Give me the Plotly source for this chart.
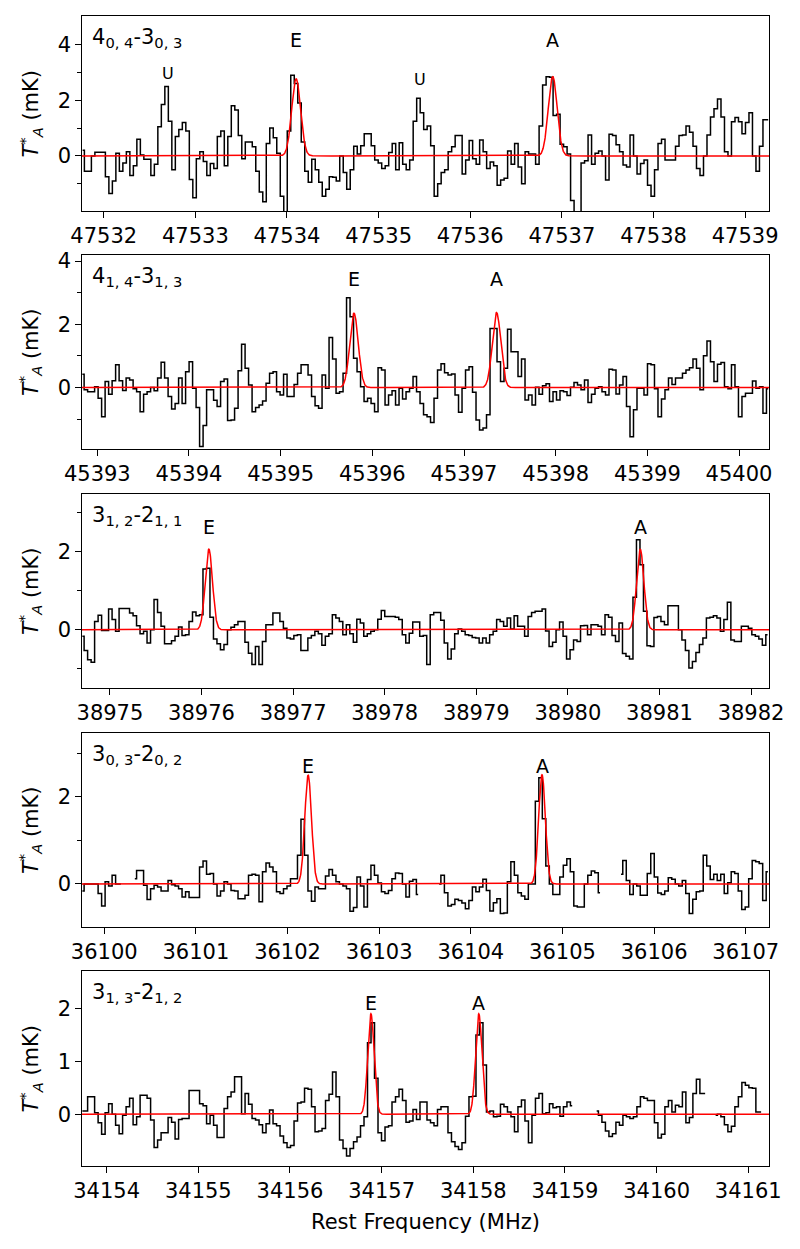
import numpy as np
import plotly.graph_objects as go
from plotly.subplots import make_subplots

# ---------------- data ----------------
CHAN_MHZ = 0.03817          # spectral channel width (MHz)
C_KMS = 299792.458
FIT_FWHM_KMS = 0.72         # line width of the fitted Gaussians (km/s)

transitions = ["4<sub>0, 4</sub>-3<sub>0, 3</sub>",
               "4<sub>1, 4</sub>-3<sub>1, 3</sub>",
               "3<sub>1, 2</sub>-2<sub>1, 1</sub>",
               "3<sub>0, 3</sub>-2<sub>0, 2</sub>",
               "3<sub>1, 3</sub>-2<sub>1, 2</sub>"]

first_chan_mhz = [47531.770, 45392.837, 38974.699, 36099.761, 34153.735]

tmb_404 = [0.2, -0.55, -0.55, 0, 0.13, 0.13, 0.13, -0.75, -1.35, -0.9,
           0.1, -0.55, -0.25, 0.15, -0.7, -0.35, 0.6, 0.03, -0.12, -0.12,
           -0.7, -0.3, 1.05, 1.85, 2.5, 1.25, -0.5, 0.7, 0.95, 1.2,
           0.9, -0.85, -1.5, -0.1, 0.15, -0.2, -0.7, -0.27, -0.45, 0.7,
           0.9, -0.35, 0.7, 1.8, 1.65, 0.73, -0.1, 0.5, 0.5, 0.33,
           -0.55, -1.3, -1.65, 0.45, 1.0, 0.65, 0.1, -1.45, -2.4, 0.9,
           2.9, 2.6, 1.9, 0.5, -0.55, -0.95, -0.12, -0.5, -0.95, -1.45,
           -1.2, -0.75, -0.77, -0.9, 0, -0.6, -1.2, -0.5, 0.35, 0.07,
           0.37, 0.8, 0.8, 0.37, -0.15, -0.25, -0.45, -0.35, 0.12, 0.45,
           -0.5, 0.47, -0.3, -0.5, -0.15, 1.25, 2.07, 1.55, 0.95, 1.08,
           0.37, -1.45, -1.0, -0.6, -0.5, 0.15, 0.33, 0.73, 0.73, -0.65,
           -0.15, 0.55, -0.1, -0.3, 0.57, 0.15, -0.45, -0.22, -0.35, -1.05,
           -0.87, -0.8, 0.18, -0.3, 0.45, -0.4, -1.0, 0.15, 0.07, 0.07,
           -0.3, 1.08, 2.55, 2.85, 2.83, 1.45, 1.5, 0.42, 0.33, 0.07,
           -1.6, -2.3, -2.2, -0.25, -0.17, 0.75, -0.3, 0.1, 0.18, 0,
           -0.87, 0.78, 0.73, 0.4, 0.15, -0.33, -0.4, 0.75, 0, -0.65,
           -0.27, -0.15, -1.05, -1.45, -0.5, 0.45, 0.6, -0.15, -0.15, -0.15,
           0.35, 0.73, 0.75, 1.08, 0.85, 0.35, -0.45, -0.7, 0, 0.75,
           1.4, 1.7, 2.05, 1.4, 0.15, 0, 1.23, 1.38, 1.23, 0.8,
           1.2, 1.55, 0.0, -0.55, 0.35, 1.3, 1.3]

tmb_414 = [0.42, -0.07, -0.13, -0.13, 0.03, -0.34, -0.92, 0.19, -0.21, 0.22,
           0.72, 0.22, -0.09, 0.3, 0.24, -0.04, -0.13, -0.76, -0.21, -0.13,
           0, -0.1, 0.3, 0.8, 0.3, -0.28, -0.68, -0.5, 0.3, -0.5,
           0.5, 0.82, -0.02, -0.63, -1.86, -1.2, -0.07, -0.07, -0.4, -0.6,
           0.19, 0.27, -1.04, -1.02, -0.65, 0.53, 1.37, 0.61, 0.08, -0.76,
           -0.63, -0.55, -0.42, 0.14, 0.45, 0.5, -0.13, -0.23, 0.42, -0.28,
           -0.28, 0.1, 0.45, 0.72, 0.72, 0.4, -0.28, -0.57, -0.65, 0.4,
           -0.02, 1.58, 0.9, -0.18, -0.13, 0.45, 2.84, 2.24, 0.93, 0.5,
           0.03, -0.44, -0.34, -0.5, -0.76, 0.63, 0.56, -0.55, -0.23, -0.1,
           -0.55, -0.02, -0.36, -0.13, -0.02, 0.35, -0.13, -0.5, -0.86, -0.92,
           -1.1, -0.34, 0.56, 0.75, 0.47, 0.4, 0.43, -0.23, -0.78, -0.02,
           0.56, 0.66, -0.15, -1.02, -1.34, -1.28, -0.86, 1.87, 1.87, 0.82,
           0.19, 0.61, 1.84, 1.13, 1.13, 0.35, 0.9, -0.39, -0.23, -0.55,
           0.01, -0.21, 0.06, 0.12, -0.44, -0.13, -0.39, -0.1, -0.13, -0.25,
           0.01, 0.16, 0.08, -0.07, 0.24, -0.47, -0.21, -0.02, 0.03, -0.13,
           -0.23, 0.58, 0.56, -0.2, 0.08, 0.35, -0.6, -1.55, -0.7, -0.02,
           -0.02, -0.23, 0.75, 0.72, -0.04, -0.92, -0.36, -0.07, 0.3, 0.1,
           0.3, 0.3, 0.45, 0.56, 0.63, 0.9, 0.61, -0.07, 1.01, 1.47,
           0.82, 0.19, 0.74, 0.79, 0.03, -0.04, 0.72, 0.03, -0.92, -0.28,
           -0.18, -0.18, 0.21, -0.02, 0.03, -0.81, -0.04]

tmb_312 = [-0.17, -0.53, -0.77, -0.83, 0.21, 0.37, -0.02, -0.02, 0.53, 0.26,
           -0.04, 0.54, 0.54, 0.54, 0.43, 0.36, 0.1, -0.1, -0.04, -0.34,
           0, 0.77, 0.44, 0.09, -0.36, -0.36, -0.28, -0.17, 0.07, -0.15,
           -0.13, 0.21, 0.45, 0.36, 0.38, 1.55, 1.57, 0.32, -0.24, -0.36,
           -0.51, -0.38, 0, 0.06, 0.13, 0.21, 0.21, -0.32, -0.6, -0.89,
           -0.43, -0.89, -0.3, 0.13, 0.13, 0.43, 0.43, 0.21, 0.04, -0.21,
           -0.24, -0.15, -0.13, -0.53, -0.53, -0.21, -0.15, -0.04, -0.1, -0.4,
           -0.17, -0.1, 0.38, 0.3, 0.21, -0.13, 0.13, -0.1, -0.32, 0.27,
           0.17, -0.17, -0.1, -0.04, 0, 0.27, 0.49, 0.34, 0.34, 0.34,
           0.32, 0.26, -0.13, -0.34, -0.09, 0.2, 0.2, -0.17, -0.15, -0.89,
           0.38, 0.44, 0.44, 0.24, -0.34, -0.75, -0.49, -0.1, 0.02, -0.04,
           -0.13, -0.15, -0.2, -0.21, -0.34, -0.21, -0.34, -0.13, -0.04, 0.26,
           0.21, 0.09, 0.3, 0.02, 0.36, 0.09, 0.09, -0.17, 0.34, 0.44,
           0.47, 0.47, 0.53, -0.03, -0.43, -0.32, 0, 0.2, -0.17, -0.75,
           -0.51, -0.26, -0.3, 0.1, 0.11, -0.13, 0.13, 0.13, 0.09, -0.13,
           0.38, 0.32, -0.15, -0.3, 0.17, -0.61, -0.68, -0.75, 0.83, 2.3,
           1.66, 0.47, -0.41, -0.43, 0.31, 0.34, 0.21, 0.13, 0.61, 0.61,
           0.61, 0, -0.26, -0.53, -0.98, -0.81, -0.58, -0.38, -0.21, 0.3,
           0.32, 0.36, 0.3, -0.04, 0.26, 0.7, -0.26, -0.3, -0.3, 0.09,
           0.09, 0.04, -0.13, -0.17, -0.24, -0.4, -0.13]

tmb_303 = [-0.16, 0, 0, 0, 0, -0.22, -0.51, 0.05, -0.05, 0.2,
           0, 0, None, None, None, 0.12, 0.31, 0.31, -0.03, -0.36,
           -0.11, -0.03, -0.07, -0.16, -0.16, 0.08, -0.02, -0.05, -0.11, -0.3,
           -0.18, -0.31, -0.31, -0.31, 0.39, 0.53, 0.22, 0.24, 0, -0.28,
           -0.16, 0.05, 0, -0.15, -0.16, -0.34, -0.34, -0.26, 0.2, 0.22,
           0.2, -0.41, 0.28, 0.48, 0.39, 0.28, -0.18, -0.22, -0.11, -0.05,
           0.12, 0.12, 0.66, 1.49, 0.66, -0.16, -0.4, -0.07, -0.11, -0.11,
           0.18, 0.33, 0.2, 0.05, 0, -0.05, -0.11, -0.63, -0.54, 0.16,
           -0.05, -0.53, 0.1, 0.43, 0.2, 0.02, -0.18, -0.22, -0.15, 0.12,
           0.25, 0.24, 0, -0.3, 0.06, 0.1, -0.24, None, None, None,
           None, None, 0, 0.2, -0.2, -0.51, -0.47, -0.35, -0.38, -0.44,
           -0.57, -0.38, -0.07, -0.18, -0.07, 0.11, -0.15, -0.62, -0.43, -0.34,
           -0.68, -0.67, 0.05, 0.51, 0.2, -0.2, -0.28, -0.35, 0, 0,
           1.9, 2.44, 1.5, 0.41, 0, -0.24, -0.24, 0.16, 0.43, 0.58,
           0.28, -0.51, -0.53, -0.53, 0, 0.2, 0.3, 0.26, -0.2, None,
           None, None, None, None, 0.22, 0.54, 0.08, -0.24, 0, -0.05,
           -0.26, -0.26, 0.24, 0.7, 0.16, -0.21, -0.24, -0.16, 0.14, 0.11,
           0, -0.05, 0.08, -0.22, -0.68, -0.35, -0.18, -0.16, 0.66, 0.41,
           0.1, 0.22, 0.08, 0.22, -0.22, 0.03, 0.28, 0.24, -0.16, -0.59,
           -0.53, 0.12, 0.54, 0.51, 0.47, -0.38, 0.28]

tmb_313 = [0.06, 0.06, 0.33, 0.33, 0.03, -0.16, -0.38, 0.03, 0.2, 0,
           -0.21, -0.37, -0.02, 0.14, 0.3, -0.2, -0.05, 0.36, 0.36, 0.3,
           -0.11, -0.63, -0.49, -0.35, -0.35, -0.06, -0.15, -0.47, -0.1, -0.08,
           -0.08, 0.45, 0.45, 0.45, 0.2, 0.16, -0.18, -0.02, -0.21, -0.44,
           -0.44, 0.11, 0.33, 0.42, 0.71, 0.71, 0.01, 0.39, 0.19, -0.08,
           -0.11, -0.2, -0.35, -0.18, 0.08, -0.18, -0.22, -0.41, -0.54, -0.63,
           -0.59, -0.13, 0.21, 0.23, 0.49, 0.47, 0.14, -0.33, -0.32, -0.27,
           0.26, 0.38, 0.8, 0.33, -0.49, -0.65, -0.79, -0.65, -0.52, -0.43,
           -0.22, -0.05, 1.35, 1.73, 0.68, -0.35, -0.5, -0.24, -0.22, 0.23,
           0.33, 0.47, 0.26, -0.15, -0.13, 0.09, -0.1, 0.23, 0.23, -0.11,
           -0.16, -0.22, 0.09, 0.14, 0.14, -0.35, -0.52, -0.61, -0.67, -0.54,
           -0.04, 0.33, 0.34, 1.5, 1.73, 0.93, 0.04, 0.06, -0.05, -0.04,
           0.19, 0.14, 0.04, -0.05, -0.33, 0.14, 0.27, -0.13, -0.54, -0.02,
           0.3, 0.39, 0.01, 0.03, 0.2, 0.12, 0.14, -0.04, 0.14, 0.23,
           0.16, None, None, None, None, None, None, 0.06, -0.02, -0.15,
           -0.32, -0.42, -0.37, -0.15, -0.21, -0.02, -0.05, -0.08, -0.05, 0.14,
           0.33, 0.3, 0.26, 0.26, -0.16, -0.45, -0.38, 0.14, 0.26, 0.04,
           0.17, 0.14, 0.42, -0.16, -0.06, 0.39, 0.66, 0.39, 0.39, None,
           None, -0.02, 0, -0.05, -0.2, -0.33, -0.23, 0.14, 0.33, 0.6,
           0.55, 0.5, 0.49, 0.04, 0.04, None, None]

spectra = [tmb_404, tmb_414, tmb_312, tmb_303, tmb_313]

x_ranges = [[47531.763, 47539.26], [45392.833, 45400.327],
            [38974.695, 38982.196], [36099.757, 36107.254],
            [34153.731, 34161.226]]
y_ranges = [[-1.98, 5.03], [-1.94, 4.19], [-1.49, 3.47], [-0.99, 3.47], [-0.98, 2.71]]
major_y = [[0, 2, 4], [0, 2, 4], [0, 2], [0, 2], [0, 1, 2]]
minor_y = [[-1, 1, 3], [-1, 1, 3], [-1, 1, 3], [1, 3], []]

line_names = ["E", "A"]
fit_centers = [[47534.10, 47536.90], [45395.80, 45397.355], [38976.08, 38980.79],
               [36102.225, 36104.777], [34156.883, 34158.06]]
fit_peaks = [[2.77, 2.85], [2.35, 2.37], [2.06, 2.06], [2.50, 2.51], [1.90, 1.90]]
name_y = [4.17, 3.43, 2.62, 2.71, 2.11]

u_freqs = [47532.70, 47535.456]
u_y = [2.98, 2.73]

# ---------------- layout geometry (pixels) ----------------
W, H = 800, 1249
X0, X1 = 82, 769
panel_px = [(16, 211), (255, 449), (494, 688), (733, 927), (971, 1166)]

FONT = "DejaVu Sans"
fig = make_subplots(rows=5, cols=1)

annotations = []
for i in range(5):
    r = i + 1
    vals = spectra[i]
    freqs = [first_chan_mhz[i] + k * CHAN_MHZ for k in range(len(vals))]
    fig.add_trace(go.Scatter(x=freqs, y=vals, mode="lines",
                             line=dict(color="black", width=1.5, shape="hvh"),
                             connectgaps=False, showlegend=False, hoverinfo="skip"),
                  row=r, col=1)
    # Gaussian fit model
    fgrid = np.linspace(x_ranges[i][0], x_ranges[i][1], 3000)
    model = np.zeros_like(fgrid)
    for c, p in zip(fit_centers[i], fit_peaks[i]):
        fwhm = FIT_FWHM_KMS / C_KMS * c
        sig = fwhm / 2.35482
        model += p * np.exp(-0.5 * ((fgrid - c) / sig) ** 2)
    fig.add_trace(go.Scatter(x=fgrid, y=model, mode="lines",
                             line=dict(color="red", width=1.5),
                             showlegend=False, hoverinfo="skip"),
                  row=r, col=1)

    top, bot = panel_px[i]
    xa = "xaxis" if i == 0 else f"xaxis{r}"
    ya = "yaxis" if i == 0 else f"yaxis{r}"
    fig.layout[xa].update(
        domain=[X0 / W, X1 / W], range=x_ranges[i], automargin=False,
        tickmode="linear", tick0=0, dtick=1, tickformat="d",
        ticks="outside", ticklen=5.5, tickwidth=1.1, tickcolor="black",
        showline=True, linecolor="black", linewidth=1.3, mirror=True,
        showgrid=False, zeroline=False,
        tickfont=dict(family=FONT, size=21, color="black"))
    fig.layout[ya].update(
        domain=[1 - bot / H, 1 - top / H], range=y_ranges[i], automargin=False,
        tickmode="array", tickvals=major_y[i],
        ticks="outside", ticklen=5.5, tickwidth=1.1, tickcolor="black",
        minor=dict(tickmode="array", tickvals=minor_y[i], ticks="outside",
                   ticklen=3.5, tickwidth=1.0, tickcolor="black", showgrid=False),
        showline=True, linecolor="black", linewidth=1.3, mirror=True,
        showgrid=False, zeroline=False,
        tickfont=dict(family=FONT, size=21, color="black"))

    xref = "x" if i == 0 else f"x{r}"
    yref = "y" if i == 0 else f"y{r}"
    # transition label
    annotations.append(dict(text=transitions[i], xref=f"{xref} domain", yref=f"{yref} domain",
                            x=0.012, y=0.885, xanchor="left", yanchor="middle",
                            showarrow=False, font=dict(family=FONT, size=21, color="black")))
    # E / A labels
    for nm, c in zip(line_names, fit_centers[i]):
        annotations.append(dict(text=nm, xref=xref, yref=yref, x=c, y=name_y[i],
                                xanchor="center", yanchor="middle", showarrow=False,
                                font=dict(family=FONT, size=19, color="black")))
    # y-axis title
    yc = 1 - (top + bot) / 2 / H
    annotations.append(dict(text="<i>T</i><sup>*</sup><sub><i>A</i></sub> (mK)",
                            xref="paper", yref="paper", x=30 / W, y=yc,
                            xanchor="center", yanchor="middle", textangle=-90,
                            showarrow=False, font=dict(family=FONT, size=21, color="black")))

# unidentified features in the first panel
for f, yv in zip(u_freqs, u_y):
    annotations.append(dict(text="U", xref="x", yref="y", x=f, y=yv,
                            xanchor="center", yanchor="middle", showarrow=False,
                            font=dict(family=FONT, size=16, color="black")))

# x-axis title
annotations.append(dict(text="Rest Frequency (MHz)", xref="paper", yref="paper",
                        x=(X0 + X1) / 2 / W, y=1 - 1222 / H, xanchor="center", yanchor="middle",
                        showarrow=False, font=dict(family=FONT, size=21, color="black")))

fig.update_layout(template="none", width=W, height=H, autosize=False,
                  margin=dict(l=0, r=0, t=0, b=0, pad=0),
                  paper_bgcolor="white", plot_bgcolor="white",
                  annotations=annotations, showlegend=False,
                  font=dict(family=FONT, color="black"))

fig.write_html("out.html", config={"displayModeBar": False},
               post_script="document.body.style.margin='0px';")
